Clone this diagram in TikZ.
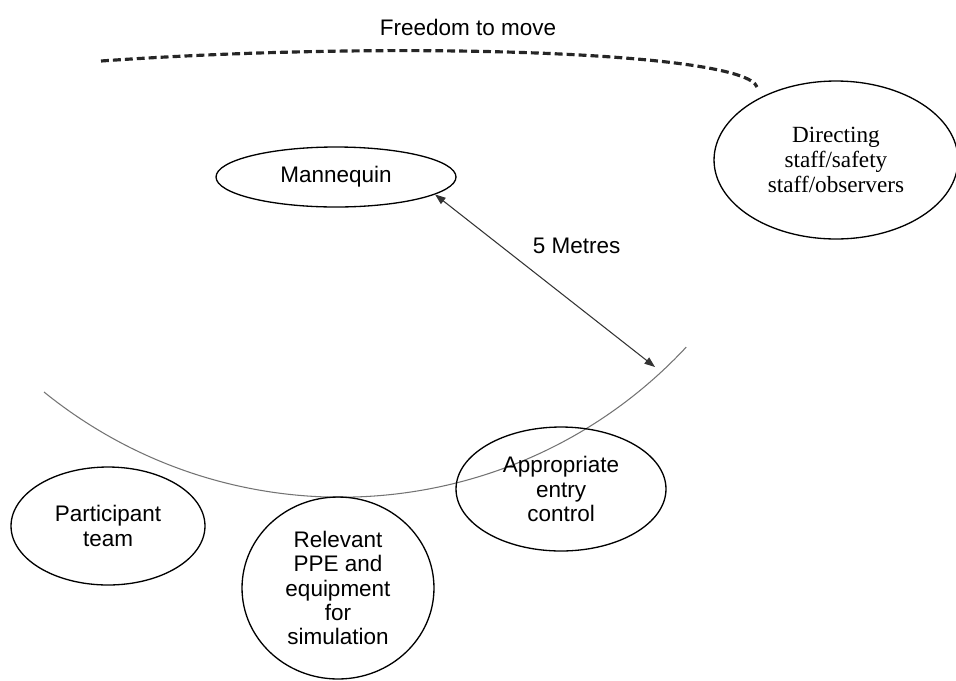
\documentclass[tikz,border=0pt]{standalone}
\usepackage{fontspec}
\setmainfont{Liberation Sans}
\newfontfamily\serifdir{Liberation Serif}
\usetikzlibrary{arrows.meta,shapes.geometric}

\begin{document}
\begin{tikzpicture}[x=0.02cm,y=-0.02cm,>={Triangle[length=6pt,width=4.4pt]},
 every node/.style={font=\fontsize{12.8}{13.8}\selectfont},
 blob/.style={draw,ellipse,line width=0.75pt,inner sep=0pt,align=center}]
\useasboundingbox (0,0) rectangle (956,680);
% boundary line and the free-movement zone
\draw[black!55,line width=0.6pt] (44,392) arc[start angle=129,end angle=43,radius=472];
\coordinate (fa) at (101,61);
\coordinate (fb) at (757,87);
\draw[black!85,line width=1.8pt,dash pattern=on 4.5pt off 2.3pt]
 (fa) .. controls (400,40) and (745,52) .. (fb);
\node (free) at (468,27) {Freedom to move};
\node[blob,minimum width=4.8cm,minimum height=1.2cm] (man) at (336,177) {Mannequin};
\node[blob,minimum width=4.88cm,minimum height=3.16cm,
 font=\serifdir\fontsize{13.2}{14}\selectfont] (dir) at (836,160)
 {Directing\\staff/safety\\staff/observers};
\node[blob,minimum width=3.88cm,minimum height=2.36cm] (team) at (108,526)
 {Participant\\team};
\node[blob,minimum width=3.84cm,minimum height=3.64cm] (ppe) at (338,588)
 {Relevant\\PPE and\\equipment\\for\\simulation};
\node[blob,minimum width=4.2cm,minimum height=2.48cm] (entry) at (561,489)
 {Appropriate\\entry\\control};
\coordinate (edge) at (655,367);
\draw[<->,black!80,line width=0.6pt] (man.-10.5)--node[pos=.4,anchor=south west,
 xshift=2pt,yshift=2pt,text=black]{5 Metres}(edge);
\end{tikzpicture}
\end{document}
